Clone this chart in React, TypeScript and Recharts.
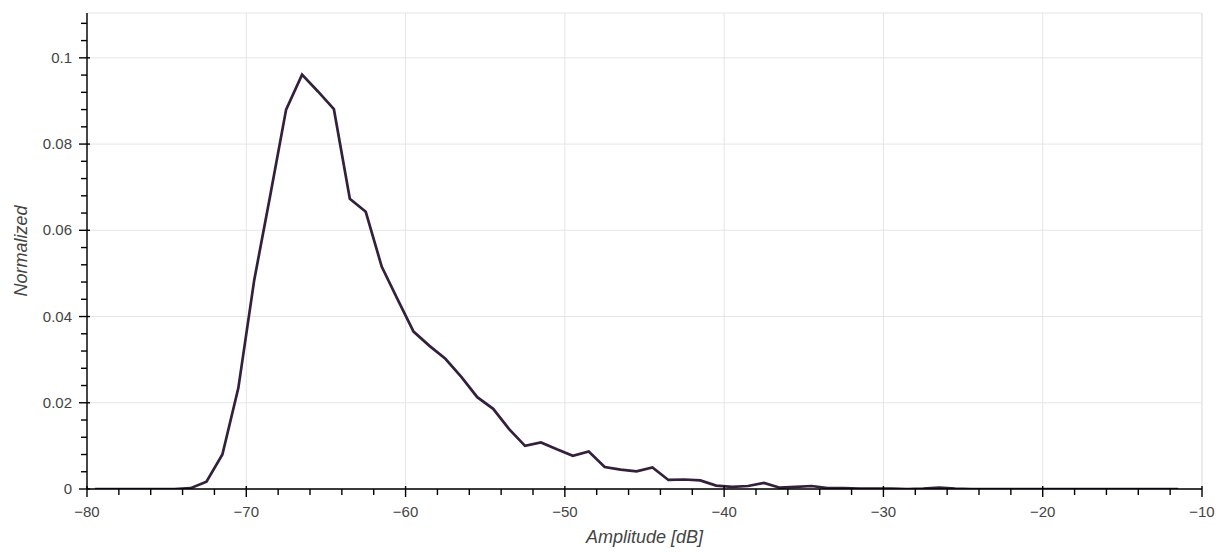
import { CartesianGrid, Line, LineChart, ReferenceArea, XAxis, YAxis } from "recharts";

const amplitudeDb = [
  -79.5, -78.5, -77.5, -76.5, -75.5, -74.5, -73.5, -72.5, -71.5, -70.5,
  -69.5, -68.5, -67.5, -66.5, -65.5, -64.5, -63.5, -62.5, -61.5, -60.5,
  -59.5, -58.5, -57.5, -56.5, -55.5, -54.5, -53.5, -52.5, -51.5, -50.5,
  -49.5, -48.5, -47.5, -46.5, -45.5, -44.5, -43.5, -42.5, -41.5, -40.5,
  -39.5, -38.5, -37.5, -36.5, -35.5, -34.5, -33.5, -32.5, -31.5, -30.5,
  -29.5, -28.5, -27.5, -26.5, -25.5, -24.5, -23.5, -22.5, -21.5, -20.5,
  -19.5, -18.5, -17.5, -16.5, -15.5, -14.5, -13.5, -12.5, -11.5,
];

const normalized = [
  0, 0, 0, 0, 0, 0, 0.0002, 0.0017, 0.008, 0.0234,
  0.0485, 0.068, 0.088, 0.0961, 0.0922, 0.0881, 0.0673, 0.0643, 0.0516, 0.044,
  0.0365, 0.0332, 0.0302, 0.026, 0.0213, 0.0186, 0.0139, 0.01, 0.0108, 0.0092,
  0.0077, 0.0087, 0.0051, 0.0045, 0.0041, 0.005, 0.0021, 0.0022, 0.002, 0.0008,
  0.0005, 0.0007, 0.0014, 0.0003, 0.0005, 0.0007, 0.0002, 0.0002, 0.0001, 0.0001,
  0.0001, 0, 0.0001, 0.0003, 0.0001, 0, 0, 0, 0, 0,
  0, 0, 0, 0, 0, 0, 0, 0, 0,
];

const xMajor = [-80, -70, -60, -50, -40, -30, -20, -10];
const xTicks = [
  -80, -78, -76, -74, -72, -70, -68, -66, -64, -62, -60, -58, -56, -54, -52, -50,
  -48, -46, -44, -42, -40, -38, -36, -34, -32, -30, -28, -26, -24, -22, -20, -18,
  -16, -14, -12, -10,
];
const yMajor = [0, 0.02, 0.04, 0.06, 0.08, 0.1];
const yTicks = [
  0, 0.004, 0.008, 0.012, 0.016, 0.02, 0.024, 0.028, 0.032, 0.036, 0.04, 0.044,
  0.048, 0.052, 0.056, 0.06, 0.064, 0.068, 0.072, 0.076, 0.08, 0.084, 0.088,
  0.092, 0.096, 0.1, 0.104, 0.108,
];
const yTop = 0.1104;

const data = amplitudeDb.map((x, i) => ({ x, y: normalized[i] }));

const FONT = "'Liberation Sans', Arial, Helvetica, sans-serif";
const isMajor = (list: number[], v: number) => list.some((m) => Math.abs(m - v) < 1e-9);
const fmt = (v: number) => String(v).replace("-", "\u2212");

function XTick(props: any) {
  const { x, y, payload } = props;
  const major = isMajor(xMajor, payload.value);
  return (
    <g>
      <line x1={x} x2={x} y1={major ? y - 3 : y} y2={major ? y + 8 : y + 6} stroke="#000" strokeWidth={1.4} />
      {major && (
        <text x={x} y={y + 28} textAnchor="middle" fill="#444" fontSize={15} fontFamily={FONT}>
          {fmt(payload.value)}
        </text>
      )}
    </g>
  );
}

function YTick(props: any) {
  const { x, y, payload } = props;
  const major = isMajor(yMajor, payload.value);
  return (
    <g>
      <line x1={major ? x - 8 : x - 6} x2={major ? x + 3 : x} y1={y} y2={y} stroke="#000" strokeWidth={1.4} />
      {major && (
        <text x={x - 15} y={y + 5} textAnchor="end" fill="#444" fontSize={15} fontFamily={FONT}>
          {fmt(payload.value)}
        </text>
      )}
    </g>
  );
}

export default function App() {
  return (
    <div style={{ position: "absolute", left: 0, top: 0, background: "#fff" }}>
      <LineChart width={1216} height={552} data={data} margin={{ top: 13, right: 14, bottom: 0, left: 0 }}>
        <CartesianGrid
          stroke="#e5e5e5"
          strokeWidth={1}
          verticalValues={xMajor}
          horizontalValues={yMajor}
        />
        <ReferenceArea x1={-80} x2={-10} y1={0} y2={yTop} fill="none" stroke="#e5e5e5" ifOverflow="visible" />
        <XAxis
          dataKey="x"
          type="number"
          domain={[-80, -10]}
          ticks={xTicks}
          interval={0}
          height={63}
          tickSize={0}
          tickMargin={0}
          tickLine={false}
          axisLine={{ stroke: "#000", strokeWidth: 1.4 }}
          tick={<XTick />}
          allowDataOverflow
          label={{
            value: "Amplitude [dB]",
            position: "insideBottom",
            offset: 9,
            fill: "#444",
            fontSize: 18,
            fontStyle: "italic",
            fontFamily: FONT,
          }}
        />
        <YAxis
          type="number"
          domain={[0, yTop]}
          ticks={yTicks}
          interval={0}
          width={87}
          tickSize={0}
          tickMargin={0}
          tickLine={false}
          axisLine={{ stroke: "#000", strokeWidth: 1.4 }}
          tick={<YTick />}
          allowDataOverflow
          label={{
            value: "Normalized",
            angle: -90,
            position: "insideLeft",
            offset: 21,
            fill: "#444",
            fontSize: 18,
            fontStyle: "italic",
            fontFamily: FONT,
            style: { textAnchor: "middle" },
          }}
        />
        <Line
          dataKey="y"
          type="linear"
          stroke="#33203d"
          strokeWidth={2.7}
          dot={false}
          activeDot={false}
          isAnimationActive={false}
        />
      </LineChart>
    </div>
  );
}
